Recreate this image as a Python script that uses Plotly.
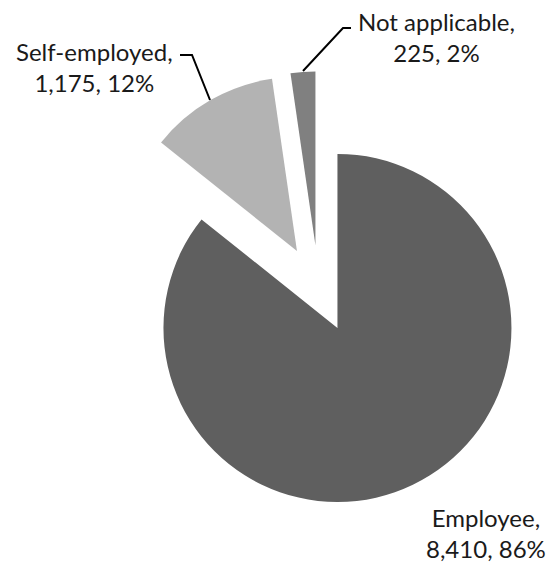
import plotly.graph_objects as go

# Employment status breakdown
categories = ["Employee", "Self-employed", "Not applicable"]
counts = [8410, 1175, 225]
colors = ["#5f5f5f", "#b3b3b3", "#808080"]

W, H = 552, 565
total = sum(counts)


def px_x(x):
    return x / W


def px_y(y):
    return 1 - y / H


def label_text(name, value):
    pct = round(value / total * 100)
    return f"{name},<br>{value:,}, {pct}%"


fig = go.Figure(
    go.Pie(
        labels=categories,
        values=counts,
        sort=False,
        direction="clockwise",
        rotation=0,
        pull=[0.25, 0.25, 0.25],
        marker=dict(colors=colors, line=dict(width=0)),
        textinfo="none",
        hoverinfo="label+value+percent",
        showlegend=False,
        domain=dict(x=[px_x(101.1), px_x(536.1)], y=[px_y(506.3), px_y(71.3)]),
    )
)

# Label placement (pixel centres) and leader lines for each slice
label_pos = {
    "Employee": (486, 533),
    "Self-employed": (94, 67),
    "Not applicable": (436, 37),
}
leaders = {
    "Self-employed": [(180, 55), (192, 55), (210, 100)],
    "Not applicable": [(351, 28), (343, 28), (303, 71)],
}

annotations = []
for name, value in zip(categories, counts):
    x, y = label_pos[name]
    annotations.append(
        dict(
            x=px_x(x), y=px_y(y), xref="paper", yref="paper",
            text=label_text(name, value), showarrow=False,
            xanchor="center", yanchor="middle", align="center",
            font=dict(family="Lato", size=24, color="#1a1a1a"),
        )
    )

shapes = []
for name, pts in leaders.items():
    path = "M " + " L ".join(f"{px_x(x):.5f},{px_y(y):.5f}" for x, y in pts)
    shapes.append(
        dict(type="path", xref="paper", yref="paper", path=path,
             line=dict(color="#000000", width=2))
    )

fig.update_layout(
    width=W, height=H,
    margin=dict(l=0, r=0, t=0, b=0),
    paper_bgcolor="white",
    plot_bgcolor="white",
    annotations=annotations,
    shapes=shapes,
)

fig.write_html("out.html")
